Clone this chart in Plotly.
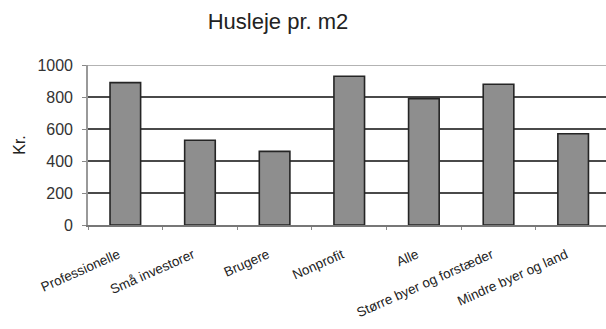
import plotly.graph_objects as go

# Husleje pr. m2 efter udlejertype og område
categories = [
    "Professionelle",
    "Små investorer",
    "Brugere",
    "Nonprofit",
    "Alle",
    "Større byer og forstæder",
    "Mindre byer og land",
]
rent_per_m2 = [890, 530, 460, 930, 790, 880, 570]
y_ticks = [0, 200, 400, 600, 800, 1000]

FONT = "Liberation Sans, Arial, sans-serif"

fig = go.Figure()
fig.add_trace(go.Bar(
    x=categories,
    y=rent_per_m2,
    width=0.41,
    marker=dict(color="#8e8e8e", line=dict(color="#252525", width=1.6)),
    showlegend=False,
))

# emphasised 600 line and lighter top frame line
fig.add_shape(type="line", xref="paper", yref="y", x0=0, x1=1, y0=600, y1=600,
              line=dict(color="#111111", width=2.2), layer="below")
fig.add_shape(type="line", xref="paper", yref="y", x0=0, x1=1, y0=1000, y1=1000,
              line=dict(color="#9a9a9a", width=1.6), layer="below")

fig.update_layout(
    width=606, height=329,
    margin=dict(l=88, r=0, t=65, b=104),
    paper_bgcolor="white", plot_bgcolor="white",
    title=dict(text="Husleje pr. m2", x=278 / 606, xanchor="center",
               y=1 - 21 / 329, yanchor="middle",
               font=dict(family=FONT, size=22, color="#222222")),
    font=dict(family=FONT, color="#222222"),
    bargap=0.59,
)
fig.update_xaxes(
    type="category",
    range=[-0.5, 6.44],
    tickangle=-24,
    tickfont=dict(size=13.5, color="#222222"),
    ticks="outside", ticklen=3, tickcolor="#888888",
    tickson="boundaries",
    ticklabelstandoff=15,
    ticklabelshift=-7,
    showline=True, linecolor="#777777", linewidth=1.6,
    showgrid=False,
)
fig.update_yaxes(
    range=[0, 1000],
    tickvals=y_ticks,
    tickfont=dict(size=16, color="#333333"),
    ticks="outside", ticklen=4, tickcolor="#888888",
    ticklabelstandoff=6,
    showline=True, linecolor="#999999", linewidth=1.6,
    showgrid=True, gridcolor="#4a4a4a", gridwidth=1.6,
    zeroline=False,
    title=dict(text="Kr.", font=dict(size=16, color="#222222"), standoff=8),
)

fig.write_html("out.html")
